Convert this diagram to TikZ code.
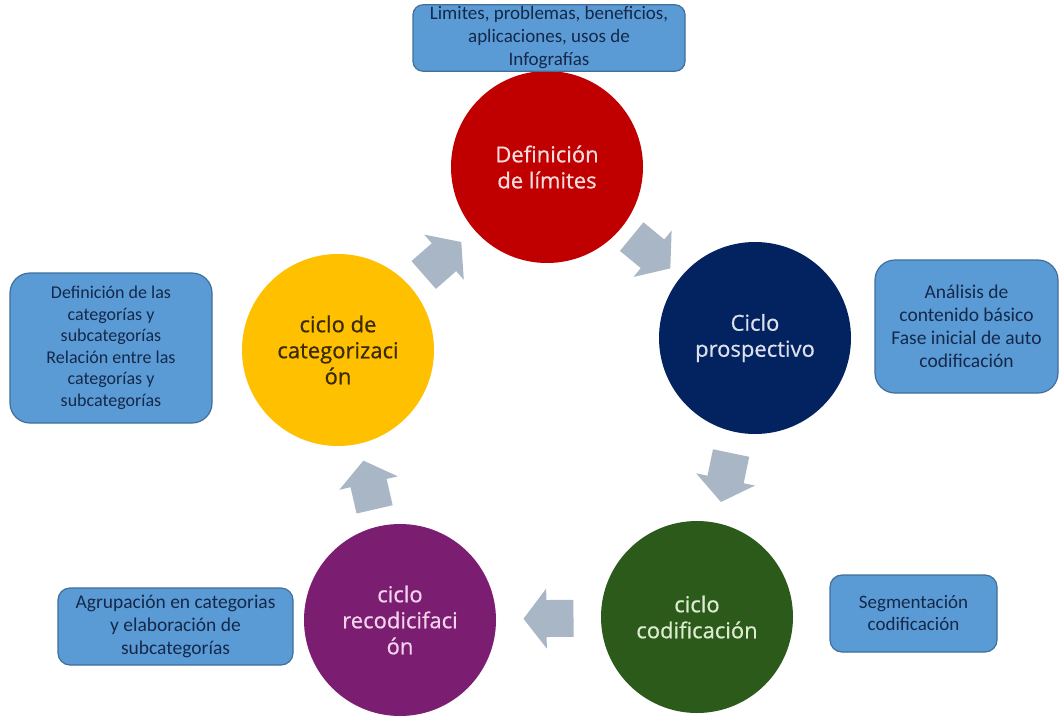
\documentclass[tikz,border=0pt]{standalone}
\usepackage{fontspec}
\setmainfont{Carlito}
\newfontfamily\circfont[FakeBold=0.6]{Open Sans}
\usetikzlibrary{calc}
\definecolor{cred}{HTML}{C00000}
\definecolor{tred}{HTML}{F6DCDC}
\definecolor{cnavy}{HTML}{022260}
\definecolor{tnavy}{HTML}{DCE0EA}
\definecolor{cgreen}{HTML}{2B5A1B}
\definecolor{tgreen}{HTML}{DDEBD0}
\definecolor{cpurple}{HTML}{7B1D70}
\definecolor{tpurple}{HTML}{F4D3EC}
\definecolor{cyellow}{HTML}{FFC000}
\definecolor{tyellow}{HTML}{3A2A05}
\definecolor{boxfill}{HTML}{5B9BD5}
\definecolor{boxline}{HTML}{3F6F9A}
\definecolor{boxtext}{HTML}{14284A}
\definecolor{arrowfill}{HTML}{A9B6C5}
\newcommand\cycarrow[2]{%
  \path let \p1=(#1.center), \p2=(#2.center), \n1={atan2(\y2-\y1,\x2-\x1)} in
    \pgfextra{\xdef\cycang{\n1}}
    ($(\p1)!0.5!(\p2)$) coordinate (#1-#2);
  \fill[arrowfill, shift={(#1-#2)}, rotate=\cycang]
    (-25,-18.5) -- (2,-18.5) -- (2,-30) -- (25,0) -- (2,30) -- (2,18.5) -- (-25,18.5) -- cycle;
}
\begin{document}
\begin{tikzpicture}[x=1pt,y=-1pt,
  cyc/.style={circle, minimum size=192pt, inner sep=0pt, align=center,
    font=\circfont\fontsize{22}{26}\selectfont},
  infobox/.style={draw=boxline, line width=1.2pt, fill=boxfill, text=boxtext,
    align=center, inner sep=2pt},
  ]
\useasboundingbox (0,0) rectangle (1060,718);
\fill[white] (0,0) rectangle (1060,718);

% circles
\node[cyc, fill=cred, text=tred] (def) at (547,167) {Definición\\de límites};
\node[cyc, fill=cnavy, text=tnavy] (pros) at (755,338) {Ciclo\\prospectivo};
\node[cyc, fill=cgreen, text=tgreen] (cod) at (697,617) {ciclo\\codificación};
\node[cyc, fill=cpurple, text=tpurple] (rec) at (400,620) {ciclo\\recodicifaci\\ón};
\node[cyc, fill=cyellow, text=tyellow] (cat) at (338,350) {ciclo de\\categorizaci\\ón};

% arrows
\cycarrow{cat}{def}
\cycarrow{def}{pros}
\cycarrow{pros}{cod}
\cycarrow{cod}{rec}
\cycarrow{rec}{cat}

% boxes
\node[infobox, rounded corners=10pt, minimum width=272pt, minimum height=60pt,
  font=\fontsize{19}{23}\selectfont] (btop) at (549,38)
  {Limites, problemas, beneficios,\\aplicaciones, usos de\\Infografías};
\node[infobox, rounded corners=20pt, minimum width=202pt, minimum height=150pt,
  font=\fontsize{18}{21.5}\selectfont] (bleft) at (111,348)
  {Definición de las\\categorías y\\subcategorías\\Relación entre las\\categorías y\\subcategorías};
\node[infobox, rounded corners=20pt, minimum width=183pt, minimum height=133pt,
  font=\fontsize{19.5}{23}\selectfont] (bright) at (966.5,326.5)
  {Análisis de\\contenido básico\\Fase inicial de auto\\codificación};
\node[infobox, rounded corners=12pt, minimum width=235pt, minimum height=77pt,
  font=\fontsize{19.5}{23}\selectfont] (bbl) at (175.5,626.5)
  {Agrupación en categorias\\y elaboración de\\subcategorías};
\node[infobox, rounded corners=12pt, minimum width=167pt, minimum height=77pt,
  font=\fontsize{19}{22}\selectfont] (bbr) at (913.5,613.5)
  {Segmentación\\codificación};
\end{tikzpicture}
\end{document}
